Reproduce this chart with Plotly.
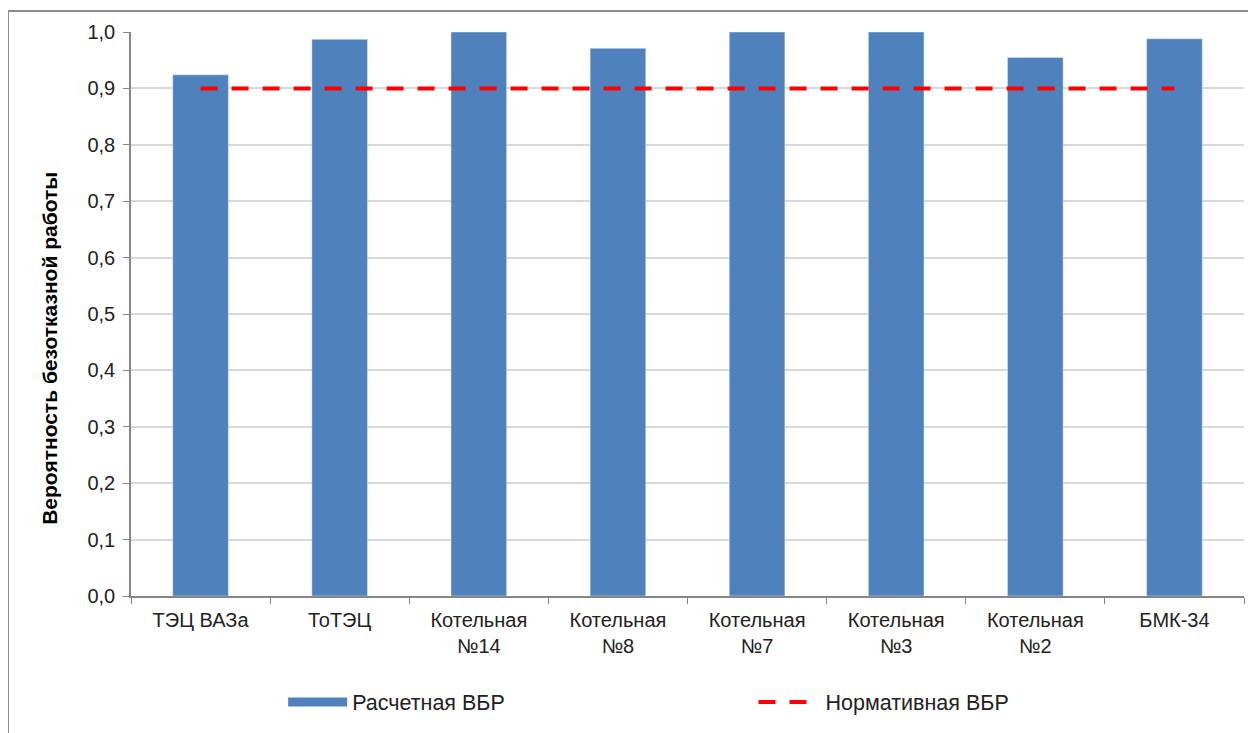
import plotly.graph_objects as go

# Data
stations = ['ТЭЦ ВАЗа', 'ТоТЭЦ', 'Котельная<br>№14', 'Котельная<br>№8', 'Котельная<br>№7',
            'Котельная<br>№3', 'Котельная<br>№2', 'БМК-34']
calc_vbr = [0.924, 0.987, 1.0, 0.971, 1.0, 1.0, 0.955, 0.988]
norm_vbr = [0.9] * len(stations)

bar_color = '#4f81bd'
text_color = '#222222'
font_family = 'Liberation Sans, Arial, sans-serif'

fig = go.Figure()

# Bars (legend entry drawn by a proxy line so it looks like a long strip)
fig.add_trace(go.Bar(
    x=stations, y=calc_vbr, marker_color=bar_color,
    showlegend=False, name='Расчетная ВБР'
))
fig.add_trace(go.Scatter(
    x=[None], y=[None], mode='lines', name='Расчетная ВБР',
    line=dict(color=bar_color, width=9), legend='legend'
))
fig.add_trace(go.Scatter(
    x=stations, y=norm_vbr, mode='lines', name='Нормативная ВБР',
    line=dict(color='#ff0000', width=4, dash='17px,14px'), legend='legend2'
))

# page body has an 8px margin, so the figure is a bit smaller than the window
fig.update_layout(
    width=1248, height=725,
    margin=dict(l=123, r=12, t=24, b=137, autoexpand=False),
    paper_bgcolor='white', plot_bgcolor='white',
    font=dict(family=font_family, size=20, color=text_color),
    separators=', ',
    bargap=0.6,
    legend=dict(
        orientation='h', x=0.1367, y=-0.188, xanchor='left', yanchor='middle',
        itemwidth=59,
        font=dict(size=21.5, color=text_color), bgcolor='rgba(0,0,0,0)'
    ),
    legend2=dict(
        orientation='h', x=0.5593, y=-0.188, xanchor='left', yanchor='middle',
        itemwidth=62,
        font=dict(size=21.5, color=text_color), bgcolor='rgba(0,0,0,0)'
    ),
    xaxis=dict(
        showline=True, linecolor='#868686', linewidth=1.5,
        ticks='outside', tickson='boundaries', ticklen=6, tickcolor='#868686',
        showgrid=False, tickfont=dict(size=20), automargin=False,
        ticklabelstandoff=5
    ),
    yaxis=dict(
        range=[0, 1.0], dtick=0.1, tickformat='.1f',
        showline=True, linecolor='#868686', linewidth=1.5,
        ticks='outside', ticklen=6, tickcolor='#868686',
        showgrid=True, gridcolor='#d9d9d9', gridwidth=1.5,
        zeroline=False, tickfont=dict(size=20), automargin=False,
        ticklabelstandoff=4
    ),
    annotations=[dict(
        text='<b>Вероятность безотказной работы</b>', textangle=-90,
        xref='paper', yref='paper', x=-0.0728, y=0.44,
        xanchor='center', yanchor='middle', showarrow=False,
        font=dict(size=21, color='#000000')
    )],
    shapes=[dict(
        type='rect', xref='paper', yref='paper',
        x0=-0.1105, x1=1.02, y0=-0.26, y1=1.0372,
        line=dict(color='#8c8c8c', width=2), layer='below'
    )]
)

fig.write_html('out.html')
